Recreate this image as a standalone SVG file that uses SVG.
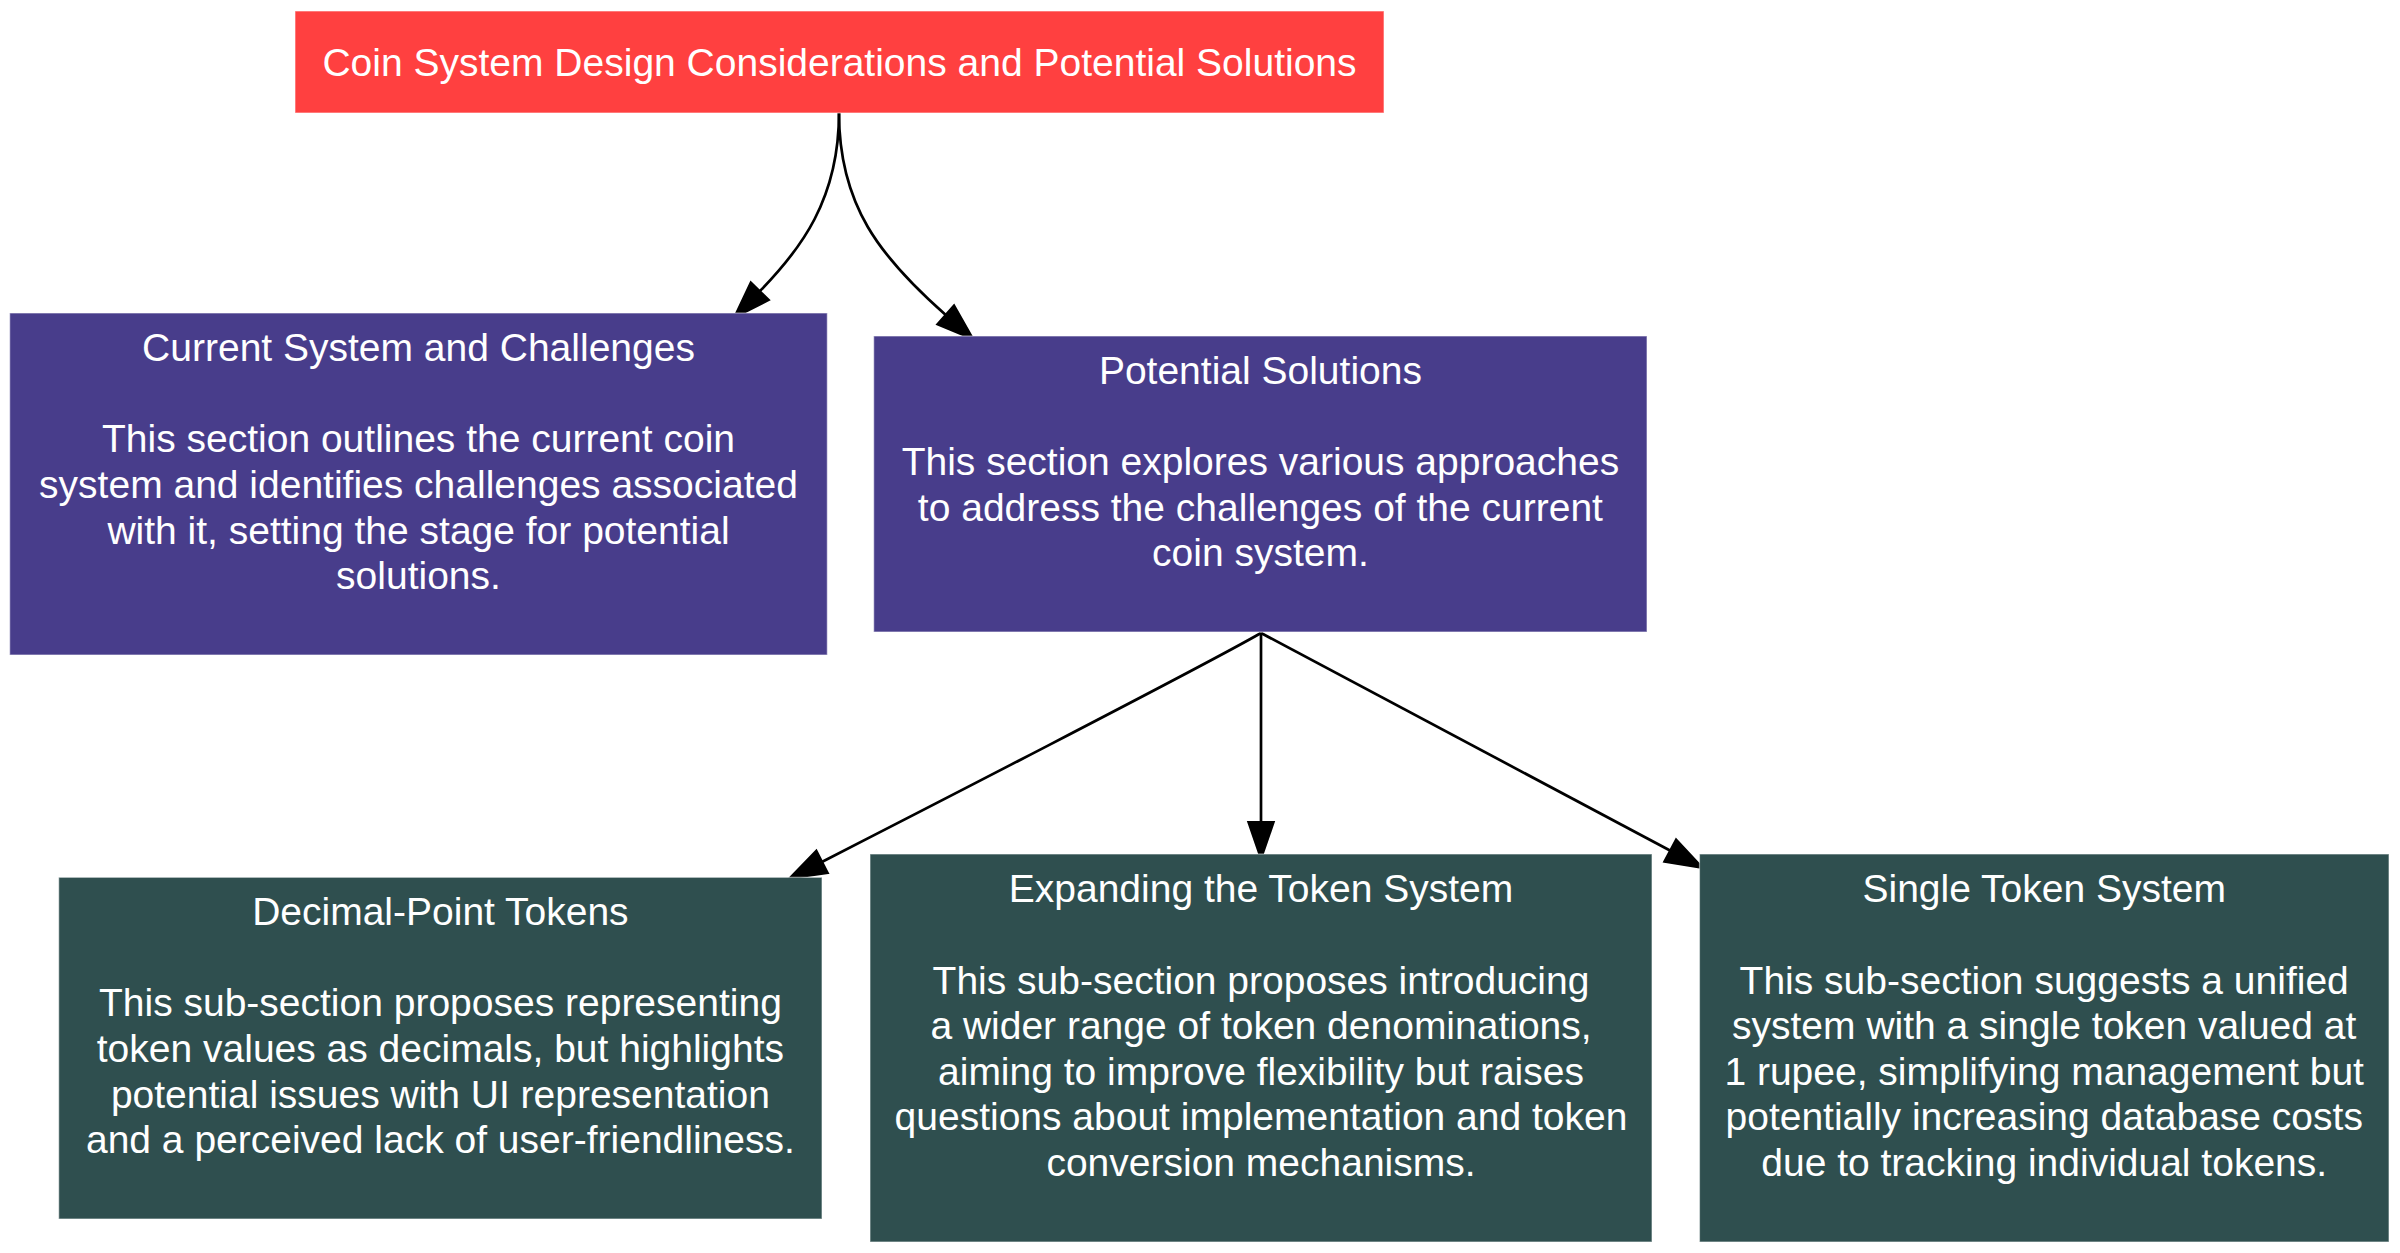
<svg xmlns="http://www.w3.org/2000/svg" width="2400" height="1253" viewBox="0 0 2400 1253">
  <style>
    .node rect { stroke: #ffffff; stroke-opacity: 0.5; stroke-width: 1.2; }
    .red { fill: #ff4040; }
    .purple { fill: #483d8b; }
    .green { fill: #2f4f4f; }
    text { font-family: "Liberation Sans", Arial, sans-serif; font-size: 39px; fill: #ffffff; text-anchor: middle; }
    .edge { fill: none; stroke: #000000; stroke-width: 2.7; }
  </style>
  <defs>
    <marker id="arrow" markerUnits="userSpaceOnUse" markerWidth="40" markerHeight="30" viewBox="0 -12 34 24" refX="0" refY="0" orient="auto" overflow="visible">
      <path d="M0,-11 L32,0 L0,11 Z" fill="#000000" stroke="#000000" stroke-width="1.5"/>
    </marker>
  </defs>
  <rect width="2400" height="1253" fill="#ffffff"/>

  <g id="connectors">
    <path class="edge" d="M839,113 C839,200 800,250 760,291" marker-end="url(#arrow)"/>
    <path class="edge" d="M839,113 C839,205 880,257 945.5,314.7" marker-end="url(#arrow)"/>
    <path class="edge" d="M1261,633 C1200,668 900,822 822.3,861.7" marker-end="url(#arrow)"/>
    <path class="edge" d="M1261,633 L1261,822" marker-end="url(#arrow)"/>
    <path class="edge" d="M1261,633 L1670,850.5" marker-end="url(#arrow)"/>
  </g>

  <g id="node-main" class="node">
    <rect class="red" x="295" y="11" width="1089" height="102"/>
    <text x="839.5" y="76">Coin System Design Considerations and Potential Solutions</text>
  </g>

  <g id="node-current" class="node">
    <rect class="purple" x="9.7" y="313" width="817.6" height="342"/>
    <text x="418.5" y="361.2">Current System and Challenges</text>
    <text x="418.5" y="452.4">This section outlines the current coin</text>
    <text x="418.5" y="498">system and identifies challenges associated</text>
    <text x="418.5" y="543.6">with it, setting the stage for potential</text>
    <text x="418.5" y="589.2">solutions.</text>
  </g>

  <g id="node-potential" class="node">
    <rect class="purple" x="873.7" y="336" width="773.3" height="296"/>
    <text x="1260.4" y="384">Potential Solutions</text>
    <text x="1260.4" y="475.2">This section explores various approaches</text>
    <text x="1260.4" y="520.8">to address the challenges of the current</text>
    <text x="1260.4" y="566.4">coin system.</text>
  </g>

  <g id="node-decimal" class="node">
    <rect class="green" x="58.7" y="877.3" width="763.3" height="341.7"/>
    <text x="440.4" y="925.2">Decimal-Point Tokens</text>
    <text x="440.4" y="1016.4">This sub-section proposes representing</text>
    <text x="440.4" y="1062">token values as decimals, but highlights</text>
    <text x="440.4" y="1107.6">potential issues with UI representation</text>
    <text x="440.4" y="1153.2">and a perceived lack of user-friendliness.</text>
  </g>

  <g id="node-expanding" class="node">
    <rect class="green" x="870" y="854" width="782" height="388"/>
    <text x="1261" y="902.4">Expanding the Token System</text>
    <text x="1261" y="993.6">This sub-section proposes introducing</text>
    <text x="1261" y="1039.2">a wider range of token denominations,</text>
    <text x="1261" y="1084.8">aiming to improve flexibility but raises</text>
    <text x="1261" y="1130.4">questions about implementation and token</text>
    <text x="1261" y="1176">conversion mechanisms.</text>
  </g>

  <g id="node-single" class="node">
    <rect class="green" x="1699.5" y="854" width="689.5" height="388"/>
    <text x="2044.2" y="902.4">Single Token System</text>
    <text x="2044.2" y="993.6">This sub-section suggests a unified</text>
    <text x="2044.2" y="1039.2">system with a single token valued at</text>
    <text x="2044.2" y="1084.8">1 rupee, simplifying management but</text>
    <text x="2044.2" y="1130.4">potentially increasing database costs</text>
    <text x="2044.2" y="1176">due to tracking individual tokens.</text>
  </g>
</svg>
